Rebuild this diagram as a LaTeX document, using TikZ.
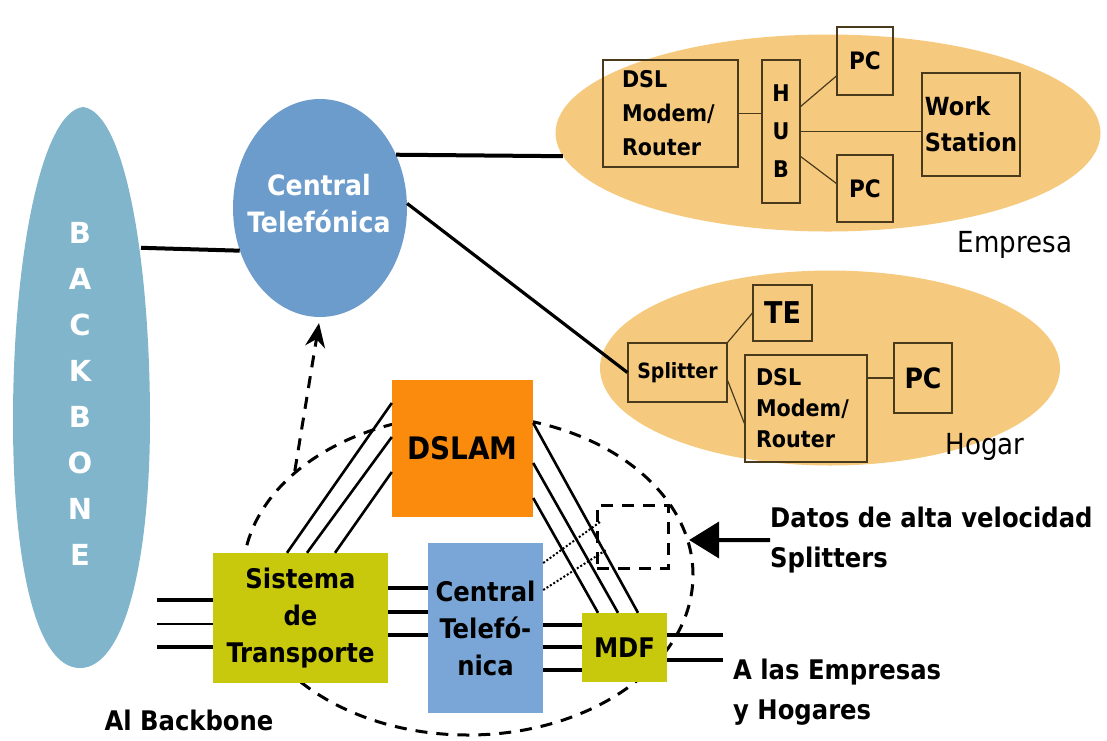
\documentclass[tikz,border=0pt]{standalone}
\usepackage{fontspec}
\setmainfont{DejaVu Sans Condensed}
\newfontfamily\anchafont{DejaVu Sans}
\usetikzlibrary{positioning, arrows.meta, calc, shapes.geometric}
\definecolor{bbAzul}{HTML}{80B5CC}
\definecolor{ctAzul}{HTML}{6C9CCC}
\definecolor{cajaAzul}{HTML}{79A6D6}
\definecolor{casaNaranja}{HTML}{F6CA7E}
\definecolor{dslamNaranja}{HTML}{FA8B0C}
\definecolor{oliva}{HTML}{C8C80C}
\definecolor{borde}{HTML}{4A3A1C}

\begin{document}
\begin{tikzpicture}[x=1pt, y=-1pt,
    nube/.style={ellipse, inner sep=0pt},
    caja/.style={draw=borde, line width=1.2pt, inner sep=0pt, align=center},
    bloque/.style={inner sep=0pt, align=center, font=\bfseries\fontsize{27}{37}\selectfont},
    txtcasa/.style={font=\bfseries\fontsize{23}{34}\selectfont},
    cable/.style={line width=3.2pt},
    hilo/.style={draw=borde, line width=1.2pt},
    discontinua/.style={line width=3pt, dash pattern=on 12pt off 9pt},
    rotulo/.style={font=\bfseries\fontsize{27}{40}\selectfont, align=left, inner sep=0pt}]
  \useasboundingbox (0,0) rectangle (1107,740);

  % Backbone
  \fill[bbAzul] (83,107) .. controls (125,112) and (150,260) .. (150,420)
    .. controls (150,560) and (125,668) .. (80,668)
    .. controls (35,668) and (13,560) .. (13,420)
    .. controls (13,260) and (41,112) .. (83,107);
  \node[nube, minimum width=137pt, minimum height=561pt] (bb) at (81.5,388) {};
  \foreach \letra [count=\i] in {B,A,C,K,B,O,N,E}
    \node[text=white, font=\anchafont\bfseries\fontsize{29}{29}\selectfont] (bb\i) at (80,187+46*\i) {\letra};

  % Nubes
  \node[nube, fill=ctAzul, minimum width=174pt, minimum height=218pt] (ct) at (320,208) {};
  \node[text=white, font=\bfseries\fontsize{28}{37}\selectfont, align=center] (ctt) at (319,204) {Central\\Telefónica};
  \node[nube, fill=casaNaranja, minimum width=545pt, minimum height=197pt] (emp) at (828,133) {};
  \node[nube, fill=casaNaranja, minimum width=460pt, minimum height=195pt] (hog) at (830,368) {};
  \node[nube, draw, discontinua, minimum width=450pt, minimum height=320pt] (grp) at (468,575) {};

  % Empresa
  \node[caja, minimum width=135pt, minimum height=107pt, text width=97pt, align=left, txtcasa] (dsle) at (670.5,113.5) {DSL\\Modem/\\Router};
  \node[caja, minimum width=38pt, minimum height=143pt, font=\bfseries\fontsize{23}{38}\selectfont] (hub) at (781,131.5) {H\\U\\B};
  \node[caja, minimum width=56pt, minimum height=68pt, font=\bfseries\fontsize{24}{24}\selectfont] (pc1) at (865,61) {PC};
  \node[caja, minimum width=98pt, minimum height=103pt, align=left, font=\bfseries\fontsize{25}{36}\selectfont] (ws) at (971,124.5) {Work\\Station};
  \node[caja, minimum width=56pt, minimum height=67pt, font=\bfseries\fontsize{24}{24}\selectfont] (pc2) at (865,188.5) {PC};
  \draw[hilo] (dsle.east) -- (dsle.east -| hub.west);
  \draw[hilo] ([yshift=25pt]hub.east) -- ([yshift=-15pt]pc1.west);
  \draw[hilo] (hub.east) -- (hub.east -| ws.west);
  \draw[hilo] ([yshift=-25pt]hub.east) -- ([yshift=5pt]pc2.west);
  \node[font=\fontsize{29}{29}\selectfont, inner sep=0pt] (lemp) at (1015,245) {Empresa};

  % Hogar
  \node[caja, minimum width=99pt, minimum height=59pt, font=\bfseries\fontsize{21}{21}\selectfont] (splh) at (677.5,372.5) {Splitter};
  \node[caja, minimum width=59pt, minimum height=56pt, font=\bfseries\fontsize{30}{30}\selectfont] (te) at (782.5,313) {TE};
  \node[caja, minimum width=122pt, minimum height=107pt, text width=100pt, align=left, font=\bfseries\fontsize{23}{31}\selectfont] (dslh) at (806,408.5) {DSL\\Modem/\\Router};
  \node[caja, minimum width=58pt, minimum height=70pt, font=\bfseries\fontsize{28}{28}\selectfont] (pch) at (923,378) {PC};
  \draw[hilo] (splh.north east) -- (te.west);
  \draw[hilo] ([yshift=-8pt]splh.east) -- ([yshift=-15pt]dslh.west);
  \draw[hilo] (dslh.east |- pch.west) -- (pch.west);
  \node[font=\fontsize{29}{29}\selectfont, inner sep=0pt] (lhog) at (985,447) {Hogar};

  % Enlaces principales
  \draw[cable, line width=4pt] (bb.67) -- (ct.208);
  \draw[cable, line width=4pt] (ct.35) -- (emp.185);
  \draw[cable] (ct.3) -- (splh.west);

  % Central local
  \node[draw, discontinua, minimum width=71pt, minimum height=63pt, inner sep=0pt] (srect) at (632.5,536.5) {};
  \node[bloque, fill=dslamNaranja, minimum width=141pt, minimum height=137pt, font=\bfseries\fontsize{31}{31}\selectfont] (dslam) at (462.5,448.5) {DSLAM};
  \node[bloque, fill=cajaAzul, minimum width=115pt, minimum height=170pt] (ctb) at (485.5,628) {Central\\Telefó-\\nica};
  \node[bloque, fill=oliva, minimum width=85pt, minimum height=69pt] (mdf) at (624.5,647.5) {MDF};
  \node[bloque, fill=oliva, minimum width=175pt, minimum height=130pt] (sis) at (300.5,618) {Sistema\\de\\Transporte};

  \foreach \y/\g in {600/3.5pt, 624/2.5pt, 647/3.5pt}
    \draw[line width=\g] (sis.west |- 0,\y) -- ++(-56,0);
  \foreach \y in {588,612,635}
    \draw[cable] (sis.east |- 0,\y) -- (ctb.west |- 0,\y);
  \foreach \y in {625,647,670}
    \draw[cable] (ctb.east |- 0,\y) -- (mdf.west |- 0,\y);
  \foreach \y in {635,660}
    \draw[cable] (mdf.east |- 0,\y) -- ++(56,0);
  \foreach \xa/\yb in {287/403, 307/437, 335/472}
    \draw[cable, line width=2.6pt] (sis.north -| \xa,0) -- (dslam.west |- 0,\yb);
  \foreach \ya/\xb in {423/638, 463/618, 498/598}
    \draw[cable, line width=2.6pt] (dslam.east |- 0,\ya) -- (mdf.north -| \xb,0);
  % splitters de datos
  \coordinate (d1) at (600,522);
  \coordinate (d2) at (606,550);
  \draw[line width=2pt, dotted] (ctb.east |- 0,563) -- (d1);
  \draw[line width=2pt, dotted] (ctb.east |- 0,590) -- (d2);

  \draw[discontinua, -{Stealth[length=24pt, width=20pt]}, shorten >=6pt] (grp.149) -- (ct.south);

  % Rotulos
  \node[rotulo, anchor=west] (datos) at (770,540) {Datos de alta velocidad\\Splitters};
  \draw[cable, line width=4pt, -{Triangle[length=30pt, width=36pt]}] (datos.west) -- (grp.9);
  \node[rotulo, anchor=west] (dest) at (733,692) {A las Empresas\\y Hogares};
  \node[rotulo] (albb) at (189,720) {Al Backbone};
\end{tikzpicture}
\end{document}
